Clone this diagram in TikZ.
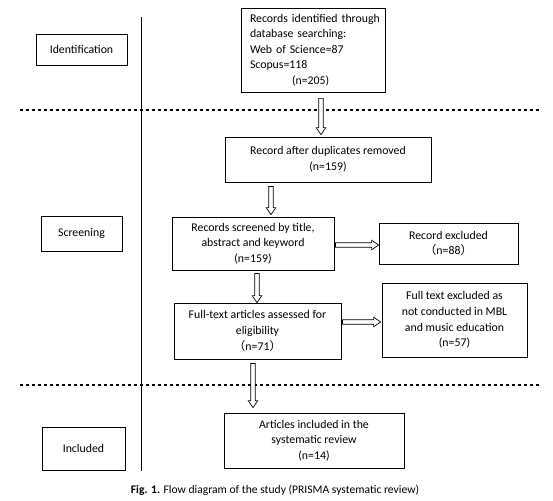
\documentclass[tikz,border=0pt]{standalone}
\usepackage{fontspec}
\setmainfont{Carlito}
\newfontfamily\cjk{Noto Sans CJK SC}
\usetikzlibrary{calc}
% vertical hollow arrow: #1 from anchor, #2 to anchor, #3 x (px), #4 start gap, #5 end gap
\newcommand\vhollow[5]{%
  \filldraw[harrowstyle] let \p1=#1, \p2=#2 in
   ({(#3-2.2)*1pt},{\y1-#4*1pt}) -- ({(#3-2.2)*1pt},{\y2+(#5+7)*1pt}) --
   ({(#3-4.8)*1pt},{\y2+(#5+7)*1pt}) -- ({#3*1pt},{\y2+#5*1pt}) --
   ({(#3+4.8)*1pt},{\y2+(#5+7)*1pt}) -- ({(#3+2.2)*1pt},{\y2+(#5+7)*1pt}) --
   ({(#3+2.2)*1pt},{\y1-#4*1pt}) -- cycle;}
% horizontal hollow arrow: #1 from anchor, #2 to anchor, #3 y (px), #4 start gap, #5 end gap
\newcommand\hhollow[5]{%
  \filldraw[harrowstyle] let \p1=#1, \p2=#2 in
   ({\x1+#4*1pt},{(2.2-#3)*1pt}) -- ({\x2-(#5+7)*1pt},{(2.2-#3)*1pt}) --
   ({\x2-(#5+7)*1pt},{(4.8-#3)*1pt}) -- ({\x2-#5*1pt},{-#3*1pt}) --
   ({\x2-(#5+7)*1pt},{(-4.8-#3)*1pt}) -- ({\x2-(#5+7)*1pt},{(-2.2-#3)*1pt}) --
   ({\x1+#4*1pt},{(-2.2-#3)*1pt}) -- cycle;}
\newcommand\lline[1]{\hspace*{8pt}\mbox{#1}}
\begin{document}
\begin{tikzpicture}[x=1pt,y=-1pt,
  box/.style={draw, line width=0.8pt, align=center, inner sep=0pt,
    font=\fontsize{11.8}{15.6}\selectfont},
  dotline/.style={line width=2.8pt, dash pattern=on 2.8pt off 3.2pt},
  harrowstyle/.style={draw=black, fill=white, line width=0.7pt, line join=miter}]
\useasboundingbox (0,0) rectangle (553,500);
\fill[white] (0,0) rectangle (553,500);

% phase separators
\draw[dotline] (20,110) -- (541,110);
\draw[dotline] (20,385) -- (541,385);
\draw[line width=1pt] (141,17) -- (141,471);

% phase labels
\node[box, minimum width=91pt, minimum height=31pt] (ident) at (81.5,49.5) {Identification};
\node[box, minimum width=81pt, minimum height=35pt] (scr) at (81.5,233.5) {Screening};
\node[box, minimum width=83pt, minimum height=43pt] (inc) at (83.5,448.5) {Included};

% flow boxes
\node[box, minimum height=84pt, align=left, text width=142pt, inner xsep=1pt] (top) at (313,50)
  {\lline{Records identified through}\\\lline{database searching:}\\\lline{Web of Science=87}\\\lline{Scopus=118}\\\hspace*{50pt}(n=205)};
\node[box, minimum width=206pt, minimum height=45pt] (dup) at (328,159.5)
  {Record after duplicates removed\\(n=159)};
\node[box, minimum width=162pt, minimum height=53pt] (screen) at (253,243.5)
  {Records screened by title,\\abstract and keyword\\(n=159)};
\node[box, minimum width=139pt, minimum height=41pt] (excl) at (448.5,243.5)
  {Record excluded\\{\cjk （}n=88{\cjk ）}};
\node[box, minimum width=167pt, minimum height=56pt] (full) at (257.5,331)
  {Full-text articles assessed for\\eligibility\\{\cjk （}n=71{\cjk ）}};
\node[box, minimum width=145pt, minimum height=74pt] (fexcl) at (454.5,320)
  {Full text excluded as\\not conducted in MBL\\and music education\\(n=57)};
\node[box, minimum width=180pt, minimum height=55pt] (incl) at (314,440.5)
  {Articles included in the\\systematic review\\(n=14)};

% caption
\node[font=\fontsize{11.6}{14}\selectfont] (cap) at (275,490)
  {\textbf{Fig. 1.} Flow diagram of the study (PRISMA systematic review)};

% arrows
\vhollow{(top.south)}{(dup.north)}{321}{6}{2}
\vhollow{(dup.south)}{(screen.north)}{271}{4}{2}
\vhollow{(screen.south)}{(full.north)}{257}{3}{0}
\vhollow{(full.south)}{(incl.north)}{253}{4}{5}
\hhollow{(screen.east)}{(excl.west)}{245}{1}{0}
\hhollow{(full.east)}{(fexcl.west)}{322}{1}{1}
\end{tikzpicture}
\end{document}
